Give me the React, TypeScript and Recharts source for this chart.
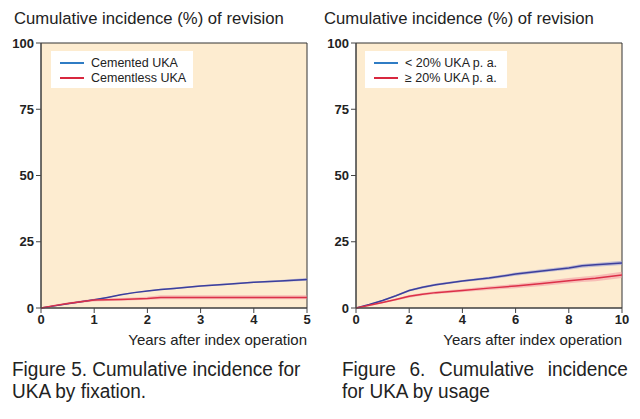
import React from "react"
import { ComposedChart, Line, Area, XAxis, YAxis, ReferenceArea } from "recharts"

// Figure 5 – by fixation (years 0–5)
const fixYears = [0, 0.25, 0.5, 0.75, 1, 1.25, 1.5, 1.75, 2, 2.25, 2.5, 3, 3.5, 4, 4.5, 5]
const cemented = [0, 0.8, 1.6, 2.4, 3.1, 4.0, 5.0, 5.8, 6.4, 7.0, 7.4, 8.3, 9.0, 9.7, 10.2, 10.8]
const cementedLo = [0, 0.6, 1.4, 2.2, 2.9, 3.8, 4.8, 5.6, 6.2, 6.7, 7.1, 8.0, 8.7, 9.4, 9.8, 10.3]
const cementedHi = [0, 1.0, 1.8, 2.6, 3.3, 4.2, 5.2, 6.0, 6.6, 7.3, 7.7, 8.6, 9.3, 10.0, 10.6, 11.3]
const cementless = [0, 0.9, 1.7, 2.4, 3.0, 3.1, 3.2, 3.4, 3.6, 4.0, 4.0, 4.0, 4.0, 4.0, 4.0, 4.0]
const cementlessLo = [0, 0.6, 1.3, 2.0, 2.5, 2.6, 2.7, 2.9, 3.1, 3.3, 3.3, 3.3, 3.3, 3.3, 3.3, 3.3]
const cementlessHi = [0, 1.2, 2.1, 2.8, 3.5, 3.6, 3.8, 4.0, 4.2, 4.8, 4.8, 4.8, 4.8, 4.8, 4.8, 4.8]

// Figure 6 – by usage (years 0–10)
const useYears = [0, 0.5, 1, 1.5, 2, 2.5, 3, 4, 5, 6, 7, 8, 8.5, 9, 10]
const lowUsage = [0, 1.3, 2.8, 4.6, 6.6, 7.8, 8.8, 10.2, 11.3, 12.8, 14.0, 15.1, 15.9, 16.3, 17.0]
const lowUsageLo = [0, 1.1, 2.5, 4.3, 6.2, 7.4, 8.4, 9.8, 10.8, 12.2, 13.4, 14.4, 15.2, 15.6, 16.2]
const lowUsageHi = [0, 1.5, 3.1, 4.9, 7.0, 8.2, 9.2, 10.6, 11.8, 13.4, 14.6, 15.8, 16.6, 17.0, 17.8]
const highUsage = [0, 1.0, 2.1, 3.2, 4.4, 5.2, 5.8, 6.6, 7.5, 8.3, 9.2, 10.3, 10.8, 11.2, 12.5]
const highUsageLo = [0, 0.8, 1.8, 2.8, 3.9, 4.7, 5.3, 6.0, 6.8, 7.5, 8.3, 9.3, 9.8, 10.1, 11.3]
const highUsageHi = [0, 1.2, 2.4, 3.6, 4.9, 5.7, 6.3, 7.2, 8.2, 9.1, 10.1, 11.3, 11.8, 12.3, 13.7]

const yTicks = [0, 25, 50, 75, 100]
const fixTicks = [0, 1, 2, 3, 4, 5]
const useTicks = [0, 2, 4, 6, 8, 10]

const fixData = fixYears.map((t, i) => ({
  t,
  a: cemented[i],
  aBand: [cementedLo[i], cementedHi[i]],
  b: cementless[i],
  bBand: [cementlessLo[i], cementlessHi[i]],
}))

const useData = useYears.map((t, i) => ({
  t,
  a: lowUsage[i],
  aBand: [lowUsageLo[i], lowUsageHi[i]],
  b: highUsage[i],
  bBand: [highUsageLo[i], highUsageHi[i]],
}))

const FONT = "'Liberation Sans', Arial, sans-serif"
const BG = "#fdecd0"
const BLUE = "#3c3f9c"
const RED = "#dc3048"

function LegendBox({ labels, left }: { labels: string[]; left: number }) {
  const colors = ["#2f7cc4", "#d8283f"]
  return (
    <div
      style={{
        position: "absolute",
        left,
        top: 51,
        background: "#fff",
        width: 142,
        height: 37,
        paddingTop: 4,
        boxSizing: "border-box",
      }}
    >
      {labels.map((l, i) => (
        <div key={l} style={{ display: "flex", alignItems: "center", height: 15, fontFamily: FONT, fontSize: 12.5, color: "#222" }}>
          <span style={{ display: "inline-block", width: 24, height: 2, background: colors[i], marginLeft: 9, marginRight: 7 }} />
          {l}
        </div>
      ))}
    </div>
  )
}

function Panel({ data, ticks, xMax, yWidth, right }: any) {
  return (
    <ComposedChart width={320} height={330} data={data} margin={{ top: 43, right, bottom: 2, left: 0 }}>
      <ReferenceArea x1={0} x2={xMax} y1={0} y2={100} fill={BG} fillOpacity={1} stroke="#333" strokeWidth={1} />
      <XAxis
        type="number"
        dataKey="t"
        domain={[0, xMax]}
        ticks={ticks}
        height={20}
        tickSize={5}
        tickMargin={2}
        stroke="#444"
        tick={{ fill: "#222", fontSize: 13, fontWeight: "bold", fontFamily: FONT }}
        allowDataOverflow
      />
      <YAxis
        type="number"
        domain={[0, 100]}
        ticks={yTicks}
        width={yWidth}
        tickSize={5}
        tickMargin={2}
        stroke="#444"
        tick={{ fill: "#222", fontSize: 13, fontWeight: "bold", fontFamily: FONT }}
      />
      <Area dataKey="aBand" type="linear" stroke="none" fill="#8f95d4" fillOpacity={0.55} isAnimationActive={false} />
      <Area dataKey="bBand" type="linear" stroke="none" fill="#f28e9c" fillOpacity={0.5} isAnimationActive={false} />
      <Line dataKey="a" type="linear" stroke={BLUE} strokeWidth={1.5} dot={false} isAnimationActive={false} />
      <Line dataKey="b" type="linear" stroke={RED} strokeWidth={1.5} dot={false} isAnimationActive={false} />
    </ComposedChart>
  )
}

const titleStyle: React.CSSProperties = {
  position: "absolute",
  top: 9,
  fontFamily: FONT,
  fontSize: 16.7,
  color: "#222",
  whiteSpace: "nowrap",
}

const axisLabelStyle: React.CSSProperties = {
  position: "absolute",
  top: 331,
  fontFamily: FONT,
  fontSize: 15,
  color: "#222",
  whiteSpace: "nowrap",
  textAlign: "right",
}

const captionStyle: React.CSSProperties = {
  position: "absolute",
  top: 358,
  fontFamily: FONT,
  fontSize: 20,
  lineHeight: "22px",
  color: "#222",
  transform: "scaleX(0.95)",
  transformOrigin: "left top",
}

export default function App() {
  return (
    <div style={{ position: "absolute", left: 0, top: 0, width: 640, height: 419, background: "#fff", overflow: "hidden" }}>
      <div style={{ ...titleStyle, left: 14 }}>Cumulative incidence (%) of revision</div>
      <div style={{ ...titleStyle, left: 324 }}>Cumulative incidence (%) of revision</div>

      <div style={{ position: "absolute", left: 0, top: 0 }}>
        <Panel data={fixData} ticks={fixTicks} xMax={5} yWidth={41} right={13} />
      </div>
      <div style={{ position: "absolute", left: 320, top: 0 }}>
        <Panel data={useData} ticks={useTicks} xMax={10} yWidth={36} right={18} />
      </div>

      <LegendBox labels={["Cemented UKA", "Cementless UKA"]} left={51} />
      <LegendBox labels={["< 20% UKA p. a.", "≥ 20% UKA p. a."]} left={365} />

      <div style={{ ...axisLabelStyle, right: 640 - 307 }}>Years after index operation</div>
      <div style={{ ...axisLabelStyle, right: 640 - 622 }}>Years after index operation</div>

      <div style={{ ...captionStyle, left: 12, width: 330, whiteSpace: "nowrap" }}>
        Figure 5. Cumulative incidence for
        <br />
        UKA by fixation.
      </div>
      <div style={{ ...captionStyle, left: 342, width: 301, textAlign: "justify", textAlignLast: "left" as any }}>
        Figure 6. Cumulative incidence for UKA by usage
      </div>
    </div>
  )
}
